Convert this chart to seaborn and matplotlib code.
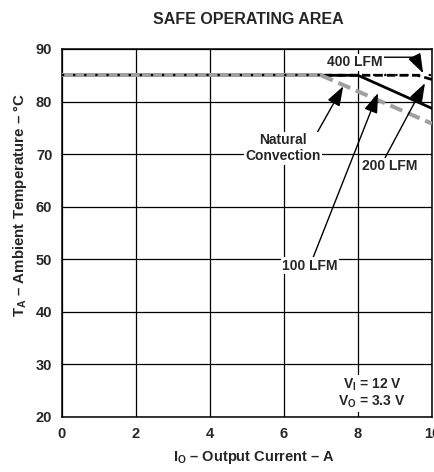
import matplotlib
matplotlib.use("Agg")
import matplotlib.pyplot as plt
import seaborn as sns

# ---- data ----
nat_x = [0, 7.0, 10]
nat_y = [85, 85, 75.8]
lfm100_x = [0, 8.0, 10]
lfm100_y = [85, 85, 78.7]
lfm200_x = [0, 9.6, 10]
lfm200_y = [85, 85, 84.2]
lfm400_x = [0, 10]
lfm400_y = [85, 85]
x_ticks = [0, 2, 4, 6, 8, 10]
y_ticks = [20, 30, 40, 50, 60, 70, 80, 90]

sns.set_style("white")
plt.rcParams['font.family'] = ['Liberation Sans', 'DejaVu Sans']
plt.rcParams['font.weight'] = 'bold'
plt.rcParams['mathtext.fontset'] = 'custom'
plt.rcParams['mathtext.rm'] = 'Liberation Sans:bold'
plt.rcParams['mathtext.bf'] = 'Liberation Sans:bold'
plt.rcParams['mathtext.it'] = 'Liberation Sans:bold'
plt.rcParams['mathtext.default'] = 'bf'

fig = plt.figure(figsize=(4.35, 4.72), dpi=100)
ax = fig.add_axes([62/435, 1-417/472, 370/435, 368/472])

GRAY = '#a0a0a0'
sns.lineplot(x=lfm100_x, y=lfm100_y, ax=ax, color='black', lw=2.0, zorder=3)
sns.lineplot(x=lfm200_x, y=lfm200_y, ax=ax, color='black', lw=2.0, zorder=3,
             linestyle=(0, (3, 1.5)))
# natural convection: solid where it coincides with the others, dashed where it derates
sns.lineplot(x=nat_x[:2], y=nat_y[:2], ax=ax, color=GRAY, lw=2.9, zorder=4)
sns.lineplot(x=nat_x[1:], y=nat_y[1:], ax=ax, color=GRAY, lw=2.9, zorder=4,
             linestyle=(0, (3.2, 1.5)))
sns.lineplot(x=lfm400_x, y=lfm400_y, ax=ax, color='black', lw=1.6, zorder=5,
             linestyle=(0, (1, 4)))

ax.set_xlim(0, 10)
ax.set_ylim(20, 90)
ax.set_xticks(x_ticks)
ax.set_yticks(y_ticks)
ax.set_xticklabels([str(v) for v in x_ticks], fontsize=10.5, fontweight='bold')
ax.set_yticklabels([str(v) for v in y_ticks], fontsize=10.5, fontweight='bold')
ax.tick_params(length=0, pad=7)
ax.grid(True, color='black', lw=0.9)
for s in ax.spines.values():
    s.set_color('black')
    s.set_linewidth(1.1)

ax.set_xlabel(r"I$_O$ – Output Current – A", fontsize=10.5, fontweight='bold')
ax.set_ylabel(r"T$_A$ – Ambient Temperature – °C", fontsize=10.8, fontweight='bold')
ax.xaxis.set_label_coords((254-62)/370, -(449-417)/368)
ax.yaxis.set_label_coords(-(62-29)/370, (417-205)/368)
fig.text(248/435, 1-20/472, "SAFE OPERATING AREA", fontsize=11.5, fontweight='bold',
         ha='center', va='center')

ap = dict(arrowstyle='-|>,head_length=1.2,head_width=0.42', color='black', lw=1.0,
          shrinkA=0, shrinkB=0)
bbox = dict(facecolor='white', edgecolor='none', pad=1)
fs = 10

ax.annotate("Natural\nConvection", xy=(7.6, 82.9), xytext=(5.97, 71.1),
            ha='center', va='center', fontsize=fs, fontweight='bold',
            arrowprops=dict(ap, relpos=(0.95, 1.0)), bbox=bbox, zorder=6)
ax.annotate("100 LFM", xy=(8.54, 81.6), xytext=(6.7, 48.8),
            ha='center', va='center', fontsize=fs, fontweight='bold',
            arrowprops=dict(ap, relpos=(0.55, 1.0)), bbox=bbox, zorder=6)
ax.annotate("200 LFM", xy=(9.81, 83.5), xytext=(8.86, 67.7),
            ha='center', va='center', fontsize=fs, fontweight='bold',
            arrowprops=dict(ap, relpos=(0.4, 1.0)), bbox=bbox, zorder=6)
ax.annotate("400 LFM", xy=(9.76, 85.4), xytext=(7.92, 87.5),
            ha='center', va='center', fontsize=fs, fontweight='bold',
            arrowprops=dict(ap, relpos=(1.0, 0.85),
                            connectionstyle="angle,angleA=0,angleB=117,rad=0"),
            bbox=bbox, zorder=6)

ax.text(8.38, 26.1, r"V$_I$ = 12 V", ha='center', va='center', fontsize=fs,
        fontweight='bold', bbox=bbox, zorder=6)
ax.text(8.38, 22.8, r"V$_O$ = 3.3 V", ha='center', va='center', fontsize=fs,
        fontweight='bold', bbox=bbox, zorder=6)

fig.savefig("out.png", dpi=100)
